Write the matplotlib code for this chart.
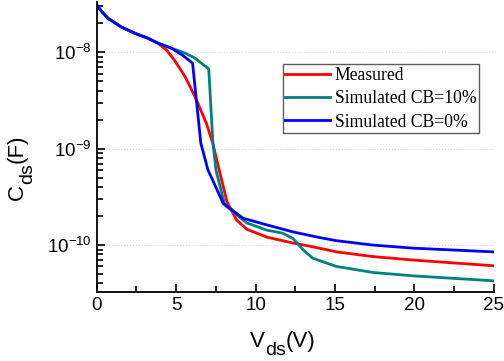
import matplotlib
matplotlib.use("Agg")
import matplotlib.pyplot as plt
from matplotlib.ticker import FixedLocator, MultipleLocator, NullFormatter, LogFormatterSciNotation
from matplotlib.transforms import IdentityTransform

# Vds (V) and Cds (F)
vds_meas = [0, 0.35, 0.7, 1.55, 2.4, 3.2, 3.85, 4.4, 4.9, 5.55, 6.17, 6.9, 7.3, 7.75, 8.2, 8.8,
            9.44, 10.7, 12.35, 13.6, 15.1, 17.4, 19.9, 25]
cds_meas = [3.07e-8, 2.6e-8, 2.25e-8, 1.82e-8, 1.57e-8, 1.40e-8, 1.24e-8, 1.05e-8, 8.2e-9, 5.6e-9,
            3.5e-9, 1.83e-9, 1.14e-9, 5.6e-10, 2.8e-10, 1.82e-10, 1.46e-10, 1.21e-10, 1.05e-10,
            9.6e-11, 8.5e-11, 7.6e-11, 7.0e-11, 6.1e-11]

vds_cb10 = [0, 0.35, 0.7, 1.55, 2.4, 3.2, 3.85, 4.7, 5.55, 6.17, 7.05, 7.3, 7.5, 8.06, 9.44, 10.7,
            11.7, 12.35, 13.0, 13.6, 15.1, 17.4, 19.9, 25]
cds_cb10 = [3.07e-8, 2.6e-8, 2.25e-8, 1.82e-8, 1.57e-8, 1.40e-8, 1.24e-8, 1.1e-8, 9.8e-9, 8.7e-9,
            6.7e-9, 1.23e-9, 6.0e-10, 2.6e-10, 1.7e-10, 1.43e-10, 1.33e-10, 1.17e-10, 8.9e-11,
            7.3e-11, 6.0e-11, 5.2e-11, 4.8e-11, 4.26e-11]

vds_cb0 = [0, 0.35, 0.7, 1.55, 2.4, 3.2, 3.85, 4.7, 5.4, 6.03, 6.55, 7.0, 7.3, 7.95, 9.2, 10.7,
           12.35, 14.0, 15.1, 17.4, 19.9, 25]
cds_cb0 = [3.07e-8, 2.6e-8, 2.25e-8, 1.82e-8, 1.57e-8, 1.40e-8, 1.24e-8, 1.1e-8, 9.3e-9, 7.7e-9,
           1.14e-9, 6.0e-10, 4.7e-10, 2.72e-10, 1.9e-10, 1.62e-10, 1.37e-10, 1.2e-10, 1.11e-10,
           1.0e-10, 9.3e-11, 8.5e-11]

series_labels = ["Measured", "Simulated CB=10%", "Simulated CB=0%"]
y_major = [1e-10, 1e-9, 1e-8]

W, H = 504, 361
fig = plt.figure(figsize=(W / 100, H / 100), dpi=100)
ax = fig.add_axes([0.192, 0.191, 0.788, 0.803])

ax.plot(vds_meas, cds_meas, color="#ff0000", lw=2, label=series_labels[0])
ax.plot(vds_cb10, cds_cb10, color="#008080", lw=2, label=series_labels[1])
ax.plot(vds_cb0, cds_cb0, color="#0000ff", lw=2, label=series_labels[2])

ax.set_yscale("log")
ax.set_xlim(0, 25)
ax.set_ylim(3.26e-11, 3.3e-8)
ax.xaxis.set_major_locator(MultipleLocator(5))
ax.xaxis.set_minor_locator(MultipleLocator(2.5))
ax.yaxis.set_major_locator(FixedLocator(y_major))
ax.yaxis.set_major_formatter(LogFormatterSciNotation())
minor = [m * d for d in [1e-11, 1e-10, 1e-9, 1e-8] for m in range(2, 10) if 3.26e-11 <= m * d <= 3.3e-8]
ax.yaxis.set_minor_locator(FixedLocator(minor))
ax.yaxis.set_minor_formatter(NullFormatter())

ax.grid(True, which="major", axis="y", color="#d8d8d8", ls=":", lw=0.8)
for s in ["top", "right"]:
    ax.spines[s].set_visible(False)
for s in ["left", "bottom"]:
    ax.spines[s].set_linewidth(1.3)
ax.tick_params(which="both", direction="in", width=1.2, labelsize=13.5)
ax.tick_params(which="major", length=6)
ax.tick_params(which="minor", length=4)
for t in ax.get_xticklabels() + ax.get_yticklabels():
    t.set_fontfamily("Liberation Sans")

leg = ax.legend(loc="upper left", bbox_to_anchor=(0.4685, 0.786), prop={"family": "Liberation Serif", "size": 12.7},
                frameon=True, fancybox=False, edgecolor="#333333", handlelength=2.5,
                handletextpad=0.3, borderpad=0.15, labelspacing=0.36, borderaxespad=0)
leg.get_frame().set_linewidth(1.0)


# axis labels with a large, lowered subscript, built from pieces (pixel coords)
def chain_label(x, y, parts, rotation=0):
    r = fig.canvas.get_renderer()
    for text, size, shift in parts:
        pos = (x, y - shift) if rotation == 0 else (x + shift, y)
        t = fig.text(pos[0], pos[1], text, fontsize=size, family="Liberation Sans",
                     transform=IdentityTransform(), rotation=rotation,
                     ha="left", va="baseline", rotation_mode="anchor")
        bb = t.get_window_extent(r)
        if rotation == 0:
            x += bb.width
        else:
            y += bb.height


chain_label(250, H - 347, [("V", 16, 0), ("ds", 14, 8), ("(V)", 16, 0)])
chain_label(23, H - 200, [("C", 16, 0), ("ds", 14, 9), ("(F)", 16, 0)], rotation=90)

fig.savefig("out.png", dpi=100)
